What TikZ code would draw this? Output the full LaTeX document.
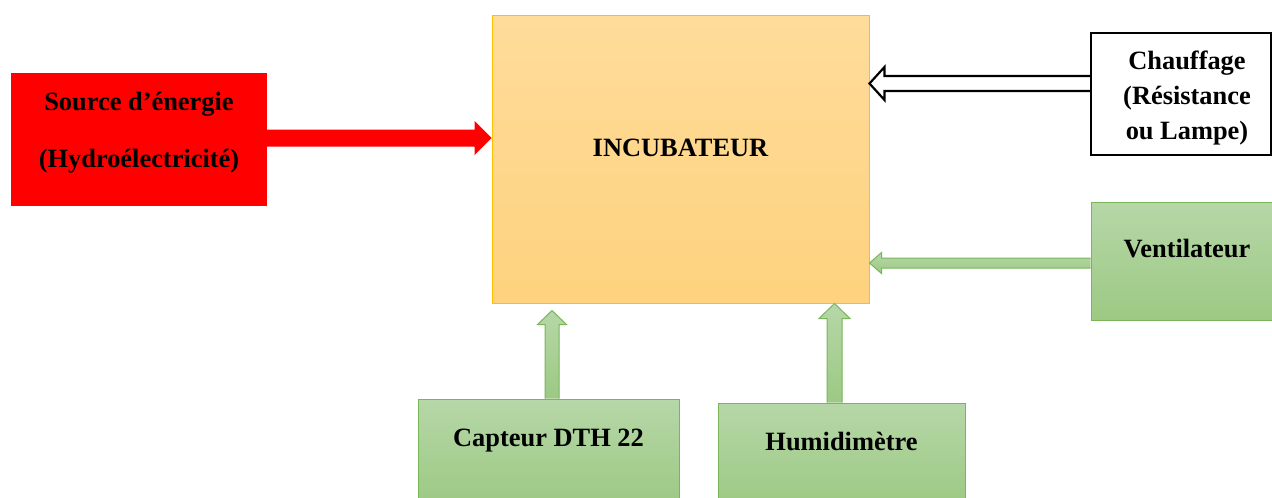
\documentclass[tikz,border=0pt]{standalone}
\usepackage{fontspec}
\setmainfont{Liberation Serif}
\usetikzlibrary{calc}
\definecolor{incTop}{HTML}{FFDC9B}
\definecolor{incBot}{HTML}{FED27E}
\definecolor{incBorder}{HTML}{FFC000}
\definecolor{grTop}{HTML}{B6D7A8}
\definecolor{grBot}{HTML}{9CC983}
\definecolor{grBorder}{HTML}{7AB55A}
\definecolor{srcRed}{HTML}{FF0000}
\newcommand{\blockarrow}[6]{%
  \coordinate (ba-h) at ($(#3)!#6!(#2)$);
  \path[#1] ($(#2)!#4!90:(#3)$) -- ($(ba-h)!#4!90:(#3)$) -- ($(ba-h)!#5!90:(#3)$)
    -- (#3) -- ($(ba-h)!#5!-90:(#3)$) -- ($(ba-h)!#4!-90:(#3)$) -- ($(#2)!#4!-90:(#3)$);
}
\tikzset{
  blk/.style={rectangle, inner sep=0pt, text height=0pt,
    font=\fontsize{26.4}{36}\selectfont\bfseries},
  greenbox/.style={blk, draw=grBorder, line width=1pt, top color=grTop, bottom color=grBot},
  greenarrow/.style={draw=grBorder, line width=1pt, top color=grTop, bottom color=grBot, line join=miter},
  redarrow/.style={fill=srcRed},
  whitearrow/.style={draw=black, fill=white, line width=2.2pt, line join=miter},
}
\begin{document}
\begin{tikzpicture}[x=1pt,y=-1pt]
\useasboundingbox (0,0) rectangle (1272,498);
% boxes
\node[blk, fill=srcRed, minimum width=256pt, minimum height=133pt, text depth=59pt] (src) at (139,139.5)
  {\begin{tabular}[t]{@{}c@{}}Source d’énergie\\[21pt](Hydroélectricité)\end{tabular}};
\node[blk, draw=incBorder, line width=1pt, top color=incTop, bottom color=incBot,
  minimum width=377pt, minimum height=288pt, text depth=6pt] (inc) at (680.5,159) {INCUBATEUR};
\node[blk, draw=black, fill=white, line width=2.2pt, minimum width=180pt, minimum height=122pt,
  text depth=50pt, font=\fontsize{26.4}{35}\selectfont\bfseries] (chf) at (1181,94)
  {\begin{tabular}[t]{@{\hspace{12pt}}c@{}}Chauffage\\(Résistance\\ou Lampe)\end{tabular}};
\node[greenbox, minimum width=192pt, minimum height=118pt, text depth=8pt] (ven) at (1187,261) {Ventilateur};
\node[greenbox, minimum width=261pt, minimum height=106pt, text depth=12pt] (cap) at (548.5,452) {Capteur DTH 22};
\node[greenbox, minimum width=247pt, minimum height=102pt, text depth=8pt] (hum) at (841.5,454) {Humidimètre};
% arrow end points
\coordinate (rS) at ($(src.east)+(0,-1.5)$);
\coordinate (rE) at (rS -| inc.west);
\coordinate (wS) at ($(chf.west)+(0,-10.5)$);
\coordinate (wE) at (wS -| inc.east);
\coordinate (vS) at ($(ven.west)+(0,2)$);
\coordinate (vE) at (vS -| inc.east);
\coordinate (cS) at ($(cap.north)+(3.5,0)$);
\coordinate (cE) at ($(cS |- inc.south)+(0,7)$);
\coordinate (hS) at ($(hum.north)+(-7,0)$);
\coordinate (hE) at (hS |- inc.south);
% arrows
\blockarrow{redarrow}{rS}{rE}{8.5pt}{17pt}{17pt}
\blockarrow{whitearrow}{wS}{wE}{7.5pt}{16.5pt}{15pt}
\blockarrow{greenarrow}{vS}{vE}{5pt}{10.5pt}{12pt}
\blockarrow{greenarrow}{cS}{cE}{7pt}{14.5pt}{14pt}
\blockarrow{greenarrow}{hS}{hE}{7.5pt}{15.5pt}{15pt}
\end{tikzpicture}
\end{document}
